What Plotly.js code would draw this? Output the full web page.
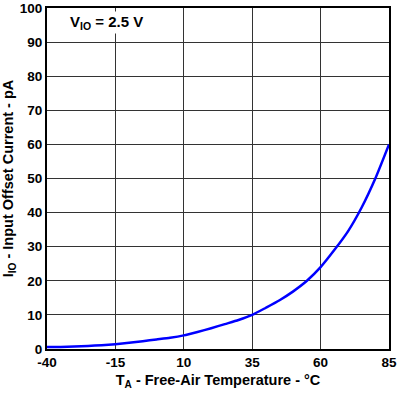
<!DOCTYPE html>
<html><head><meta charset="utf-8">
<script src="https://cdn.plot.ly/plotly-3.0.1.min.js"></script>
<style>html,body{margin:0;padding:0;background:#fff}#c{width:398px;height:398px}</style>
</head><body><div id="c"></div>
<script>
const tempC = [-40,-35,-30,-25,-20,-15,-10,-5,0,5,10,15,20,25,30,35,40,45,50,55,60,65,70,75,80,85];
const offsetCurrent = [0.6,0.6,0.7,0.9,1.1,1.4,1.8,2.3,2.8,3.3,4.0,5.0,6.1,7.3,8.5,10.0,12.1,14.3,16.9,20.0,24.0,29.0,34.5,41.5,50.0,60.0];
const xTicks = [-40,-15,10,35,60,85];
const yTicks = [0,10,20,30,40,50,60,70,80,90,100];
const fontFam = '"Liberation Sans", Arial, sans-serif';
Plotly.newPlot('c', [{
  x: tempC, y: offsetCurrent, type: 'scatter', mode: 'lines',
  line: {color: '#0000ff', width: 2.5, shape: 'spline', smoothing: 0.6}
}], {
  width: 398, height: 398,
  margin: {l: 47, r: 9, t: 8, b: 49},
  paper_bgcolor: '#fff', plot_bgcolor: '#fff',
  showlegend: false,
  font: {family: fontFam, color: '#000', size: 13, weight: 'bold'},
  xaxis: {
    range: [-40, 85], tickvals: xTicks, ticktext: xTicks.map(String),
    showgrid: true, gridcolor: '#333', gridwidth: 1,
    zeroline: false, showline: true, linecolor: '#000', linewidth: 2, mirror: true,
    ticks: '', tickfont: {family: fontFam, size: 13.5, weight: 'bold'},
    title: {text: 'T<sub>A</sub> - Free-Air Temperature - °C', standoff: 6,
            font: {family: fontFam, size: 14.5, weight: 'bold'}}
  },
  yaxis: {
    range: [0, 100], tickvals: yTicks, ticktext: yTicks.map(String),
    showgrid: true, gridcolor: '#333', gridwidth: 1,
    zeroline: false, showline: true, linecolor: '#000', linewidth: 2, mirror: true,
    ticks: '', tickfont: {family: fontFam, size: 13.5, weight: 'bold'},
    title: {text: 'I<sub>IO</sub> - Input Offset Current - pA', standoff: 3,
            font: {family: fontFam, size: 14.5, weight: 'bold'}}
  },
  annotations: [{
    text: 'V<sub>IO</sub> = 2.5 V', xref: 'paper', yref: 'paper',
    x: 0.062, y: 0.99, xanchor: 'left', yanchor: 'top', showarrow: false,
    font: {family: fontFam, size: 15, weight: 'bold'}, bgcolor: '#fff'
  }]
}, {displayModeBar: false, staticPlot: true});
</script></body></html>
